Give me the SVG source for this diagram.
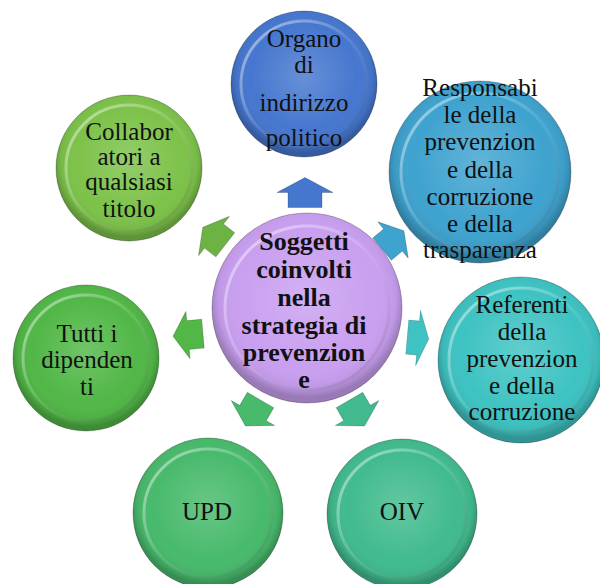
<svg xmlns="http://www.w3.org/2000/svg" width="600" height="584" viewBox="0 0 600 584">
  <defs>
    <!-- shading laid over each flat disc to give it a domed look -->
    <radialGradient id="shade" cx="50%" cy="45%" r="52%">
      <stop offset="0" stop-color="#ffffff" stop-opacity="0.18"/>
      <stop offset="0.7" stop-color="#ffffff" stop-opacity="0"/>
      <stop offset="0.9" stop-color="#000000" stop-opacity="0.05"/>
      <stop offset="1" stop-color="#000000" stop-opacity="0.24"/>
    </radialGradient>
    <linearGradient id="rim" x1="0" y1="0" x2="1" y2="1">
      <stop offset="0" stop-color="#ffffff" stop-opacity="0.55"/>
      <stop offset="0.5" stop-color="#ffffff" stop-opacity="0.1"/>
      <stop offset="1" stop-color="#000000" stop-opacity="0.15"/>
    </linearGradient>
    <!-- block arrow pointing along +x, centred on the origin -->
    <path id="arrow" d="M-15,-17 H0 V-28 L15,0 L0,28 V17 H-15 Z"/>
  </defs>
  <style>
    .disc { stroke: #000; stroke-opacity: 0.25; stroke-width: 1; }
    .shade { fill: url(#shade); }
    .rim { fill: none; stroke: url(#rim); stroke-width: 3; }
    .lbl { font-family: "Liberation Serif", "DejaVu Serif", serif; font-size: 25px; fill: #111; text-anchor: middle; }
    .hub { font-family: "Liberation Serif", "DejaVu Serif", serif; font-size: 26px; font-weight: bold; fill: #111; text-anchor: middle; }
    .arr { stroke: #000; stroke-opacity: 0.2; stroke-width: 1; }
  </style>
  <rect width="600" height="584" fill="#ffffff"/>

  <!-- arrows from the hub to each node -->
  <g id="connectors">
    <use href="#arrow" class="arr" fill="#4677cf" transform="translate(305,192.5) rotate(-90)"/>
    <use href="#arrow" class="arr" fill="#3fa3cf" transform="translate(393,240) rotate(-40) scale(0.95,0.85)"/>
    <use href="#arrow" class="arr" fill="#3ec3c2" transform="translate(418,338) rotate(5) scale(0.72,1)"/>
    <use href="#arrow" class="arr" fill="#41bb8e" transform="translate(357,413) rotate(60) scale(1,0.9)"/>
    <use href="#arrow" class="arr" fill="#48ba6c" transform="translate(253,413) rotate(120) scale(1,0.9)"/>
    <use href="#arrow" class="arr" fill="#51b747" transform="translate(188,335) rotate(175) scale(1,0.85)"/>
    <use href="#arrow" class="arr" fill="#6db343" transform="translate(214,236) rotate(218) scale(0.95,0.9)"/>
  </g>

  <g id="hub">
    <circle class="disc" cx="307" cy="308" r="95" fill="#c99ff0"/>
    <circle class="shade" cx="307" cy="308" r="95"/>
    <circle class="rim" cx="307" cy="308" r="82"/>
    <text class="hub" x="304" y="250">Soggetti</text>
    <text class="hub" x="304" y="278">coinvolti</text>
    <text class="hub" x="304" y="306">nella</text>
    <text class="hub" x="304" y="334">strategia di</text>
    <text class="hub" x="304" y="361">prevenzion</text>
    <text class="hub" x="304" y="388">e</text>
  </g>

  <g id="organo">
    <circle class="disc" cx="304" cy="84" r="73" fill="#4677cf"/>
    <circle class="shade" cx="304" cy="84" r="73"/>
    <circle class="rim" cx="304" cy="84" r="63"/>
    <text class="lbl" x="304" y="47">Organo</text>
    <text class="lbl" x="304" y="73">di</text>
    <text class="lbl" x="304" y="111">indirizzo</text>
    <text class="lbl" x="304" y="146">politico</text>
  </g>

  <g id="responsabile">
    <circle class="disc" cx="480" cy="172" r="91" fill="#3fa3cf"/>
    <circle class="shade" cx="480" cy="172" r="91"/>
    <circle class="rim" cx="480" cy="172" r="79"/>
    <text class="lbl" x="480" y="96">Responsabi</text>
    <text class="lbl" x="480" y="123">le della</text>
    <text class="lbl" x="480" y="150">prevenzion</text>
    <text class="lbl" x="480" y="178">e della</text>
    <text class="lbl" x="480" y="205">corruzione</text>
    <text class="lbl" x="480" y="232">e della</text>
    <text class="lbl" x="480" y="258">trasparenza</text>
  </g>

  <g id="referenti">
    <circle class="disc" cx="521" cy="360" r="83" fill="#3ec3c2"/>
    <circle class="shade" cx="521" cy="360" r="83"/>
    <circle class="rim" cx="521" cy="360" r="72"/>
    <text class="lbl" x="522" y="313">Referenti</text>
    <text class="lbl" x="522" y="340">della</text>
    <text class="lbl" x="522" y="367">prevenzion</text>
    <text class="lbl" x="522" y="394">e della</text>
    <text class="lbl" x="522" y="420">corruzione</text>
  </g>

  <g id="oiv">
    <circle class="disc" cx="402" cy="514" r="75" fill="#41bb8e"/>
    <circle class="shade" cx="402" cy="514" r="75"/>
    <circle class="rim" cx="402" cy="514" r="64"/>
    <text class="lbl" x="402" y="520">OIV</text>
  </g>

  <g id="upd">
    <circle class="disc" cx="208" cy="513" r="75" fill="#48ba6c"/>
    <circle class="shade" cx="208" cy="513" r="75"/>
    <circle class="rim" cx="208" cy="513" r="64"/>
    <text class="lbl" x="207" y="520">UPD</text>
  </g>

  <g id="dipendenti">
    <circle class="disc" cx="86" cy="358" r="73" fill="#51b747"/>
    <circle class="shade" cx="86" cy="358" r="73"/>
    <circle class="rim" cx="86" cy="358" r="63"/>
    <text class="lbl" x="87" y="342">Tutti i</text>
    <text class="lbl" x="87" y="368">dipenden</text>
    <text class="lbl" x="87" y="395">ti</text>
  </g>

  <g id="collaboratori">
    <circle class="disc" cx="129" cy="168" r="73" fill="#7dc24a"/>
    <circle class="shade" cx="129" cy="168" r="73"/>
    <circle class="rim" cx="129" cy="168" r="63"/>
    <text class="lbl" x="129" y="140">Collabor</text>
    <text class="lbl" x="129" y="165">atori a</text>
    <text class="lbl" x="129" y="190">qualsiasi</text>
    <text class="lbl" x="129" y="217">titolo</text>
  </g>
</svg>
